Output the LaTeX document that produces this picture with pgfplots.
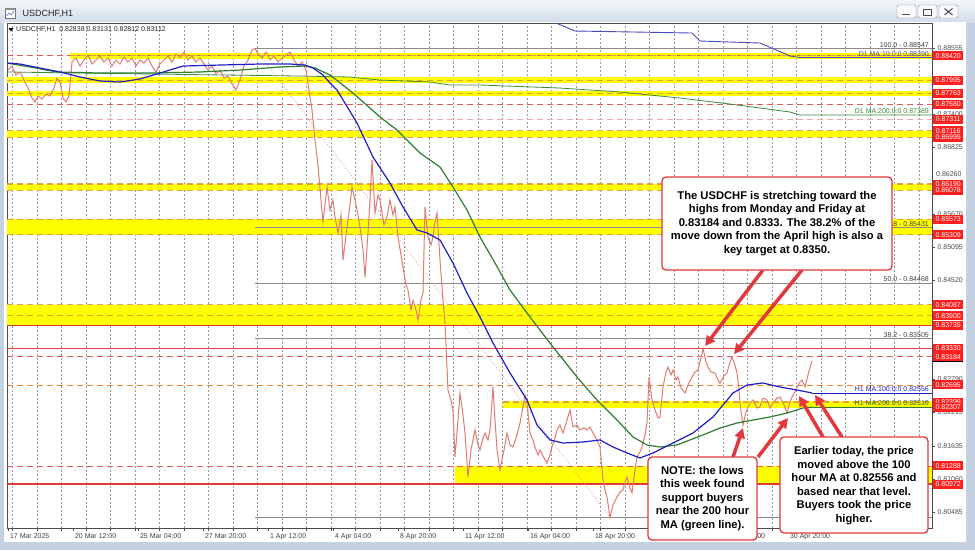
\documentclass[border=0pt]{standalone}
\usepackage{fontspec}
\setmainfont{Liberation Sans}
\usepackage{pgfplots}
\pgfplotsset{compat=1.18}
\usetikzlibrary{arrows.meta}
\definecolor{frame}{HTML}{C3D1E0}
\definecolor{titlebar}{HTML}{D3DEEA}
\definecolor{mtred}{HTML}{FF1F1F}
\definecolor{bandyellow}{HTML}{FFFF00}
\definecolor{bandorange}{HTML}{E6A23A}
\definecolor{lvlred}{HTML}{E03C3C}
\definecolor{ma100}{HTML}{1F1FC8}
\definecolor{ma200}{HTML}{2E7D32}
\definecolor{d1green}{HTML}{3C8C3C}
\definecolor{d1purple}{HTML}{4848C0}
\definecolor{pricecol}{HTML}{E27B74}
\definecolor{annred}{HTML}{E0383C}
\definecolor{fibgray}{HTML}{8C8C8C}
\newcommand{\band}[3]{\addplot[fill=bandyellow, draw=none, forget plot] coordinates {(#1,#2) (932,#2) (932,#3) (#1,#3)};}
\newcommand{\lvl}[3]{\addplot[#1, forget plot] coordinates {(#2,#3) (932,#3)};}
\tikzset{
  odash/.style={bandorange, line width=1.1pt, dash pattern=on 6pt off 4pt},
  rdash/.style={lvlred!85, line width=0.7pt, dash pattern=on 6pt off 4pt},
  rsolid/.style={lvlred, line width=1.1pt},
  fib/.style={fibgray, line width=0.5pt},
  redlab/.style={anchor=west, fill=mtred, text=white, font=\fontsize{7}{8}\selectfont, inner xsep=1pt, inner ysep=0.6pt, minimum width=30pt, minimum height=9pt},
  smalltxt/.style={font=\fontsize{7}{8}\selectfont, inner sep=1pt},
  ann/.style={draw=annred, line width=1.3pt, fill=white, rounded corners=4pt},
  anntext/.style={font=\bfseries\fontsize{11.2}{13.5}\selectfont, align=center, text=black},
  arr/.style={annred, line width=3.5pt, -{Triangle[length=10pt,width=10pt]}}
}
\begin{document}
\begin{tikzpicture}
\useasboundingbox (0,0) rectangle (975pt,-550pt);
\begin{scope}[x=1pt,y=-1pt]
\fill[frame] (0,0) rectangle (975,550);
\shade[top color=white!70!titlebar, bottom color=titlebar] (0,0) rectangle (975,22);
\fill[white] (4,22) rectangle (966,542);
% icon
\draw[black!55, line width=0.5pt, fill=white] (5,8) rectangle (15,18);
\fill[black!45] (5,8) rectangle (15,10);
\draw[ma100!70, line width=0.6pt] (6.5,16) -- (9,13) -- (11,15) -- (14,11);
\node[anchor=west, font=\fontsize{9}{10}\selectfont, text=black!85] at (19,13.5) {USDCHF,H1};
% window buttons
\foreach \xa in {897,918,939}{
  \draw[black!45, fill=white!85!titlebar, rounded corners=2pt] (\xa,5) rectangle (\xa+19,18);
}
\draw[black!70, line width=1pt] (902,14.5) -- (910,14.5);
\draw[black!70, line width=0.7pt] (923,9) rectangle (931,15);
\draw[black!70, line width=1pt] (944.5,8.5) -- (952.5,15) (944.5,15) -- (952.5,8.5);
\end{scope}

\begin{axis}[
  at={(7pt,-528pt)}, anchor=south west,
  scale only axis, width=925pt, height=505pt,
  xmin=7, xmax=932, ymin=0.80207, ymax=0.88990,
  axis background/.style={fill=white},
  axis line style={draw=black!70, line width=0.5pt},
  tick align=outside,
  xtick pos=bottom, ytick pos=right,
  yticklabel pos=right,
  scaled y ticks=false,
  ytick={0.88555,0.87400,0.86825,0.86260,0.85670,0.85095,0.84520,0.82790,0.82215,0.81635,0.81060,0.80485},
  yticklabels={0.88555,0.87400,0.86825,,0.85670,0.85095,0.84520,0.82790,0.82215,0.81635,0.81060,0.80485},
  y tick label style={font=\fontsize{7}{8}\selectfont, text=black!70, xshift=-0.5pt},
  major tick length=2.5pt,
  tick style={black!70, line width=0.5pt},
  xtick={12.3,36.8,...,930},
  xticklabels={},
  xmajorgrids,
  grid style={dash pattern=on 2pt off 2pt, black!40, line width=0.45pt},
  extra x ticks={8,73,138,203,268,333,398,463,528,593,658,723,788},
  extra x tick labels={17 Mar 2025,20 Mar 12:00,25 Mar 04:00,27 Mar 20:00,1 Apr 12:00,4 Apr 04:00,8 Apr 20:00,11 Apr 12:00,16 Apr 04:00,18 Apr 20:00,23 Apr 12:00,28 Apr 04:00,30 Apr 20:00},
  extra x tick style={grid=none, tick label style={anchor=north west, xshift=-1.5pt, font=\fontsize{7}{8}\selectfont, text=black!75}},
  clip mode=individual,
]
% ---- yellow zones
\band{70}{0.88468}{0.88372}
\band{7}{0.88045}{0.87945}
\band{7}{0.87813}{0.87713}
\band{7}{0.87116}{0.86999}
\band{7}{0.86190}{0.86078}
\band{7}{0.85573}{0.85309}
\band{7}{0.84087}{0.83735}
\band{503}{0.82420}{0.82290}
\band{455}{0.81288}{0.80972}
% ---- level lines
\lvl{rdash}{7}{0.88420}
\lvl{odash}{70}{0.88420}
\lvl{odash}{7}{0.87995}
\lvl{odash}{7}{0.87763}
\lvl{rdash}{7}{0.87580}
\lvl{rdash, lvlred!45}{7}{0.87311}
\lvl{odash}{7}{0.87116}
\lvl{odash}{7}{0.86999}
\lvl{odash}{7}{0.86190}
\lvl{odash}{7}{0.86078}
\lvl{odash}{7}{0.85573}
\lvl{odash}{7}{0.85309}
\lvl{odash}{7}{0.84087}
\lvl{odash}{7}{0.83900}
\lvl{rsolid}{7}{0.83735}
\lvl{rsolid}{7}{0.83330}
\lvl{rdash}{7}{0.83184}
\lvl{rdash, bandorange!80!red}{7}{0.82695}
\lvl{odash}{503}{0.82399}
\lvl{rdash}{7}{0.81288}
\lvl{rsolid}{7}{0.80972}
% ---- fibonacci
\lvl{fib}{255}{0.88547}
\lvl{fib}{255}{0.85431}
\lvl{fib}{255}{0.84468}
\lvl{fib}{255}{0.83505}
\lvl{fib}{255}{0.80389}
\addplot[lvlred!60, line width=0.6pt, dash pattern=on 1pt off 2pt, forget plot] coordinates {(255,0.88547) (610,0.80389)};
\node[smalltxt, anchor=south east, text=black!75] at (axis cs:930,0.88547) {100.0 - 0.88547};
\node[smalltxt, anchor=south east, text=black!75] at (axis cs:930,0.85431) {61.8 - 0.85431};
\node[smalltxt, anchor=south east, text=black!75] at (axis cs:930,0.84468) {50.0 - 0.84468};
\node[smalltxt, anchor=south east, text=black!75] at (axis cs:930,0.83505) {38.2 - 0.83505};
\node[smalltxt, anchor=south east, text=black!75] at (axis cs:930,0.80389) {0.0 - 0.80389};
% ---- daily MAs
\addplot[d1purple, line width=0.9pt, forget plot] coordinates {(556,0.88990) (575,0.88851) (692,0.88816) (700,0.88677) (760,0.88642) (790,0.88416) (800,0.88390) (932,0.88390)};
\addplot[d1green, line width=0.8pt, forget plot] coordinates {(7,0.88138) (150,0.88103) (300,0.88068) (350,0.88051) (380,0.87998) (430,0.87964) (450,0.87912) (480,0.87912) (560,0.87859) (620,0.87790) (680,0.87685) (730,0.87581) (790,0.87442) (800,0.87390) (932,0.87390)};
\node[smalltxt, anchor=south east, text=d1purple] at (axis cs:930,0.88390) {D1 MA:10:0:0 0.88390};
\node[smalltxt, anchor=south east, text=d1green] at (axis cs:930,0.87390) {D1 MA:200:0:0 0.87389};
% ---- hourly MA levels
\lvl{ma100, line width=0.8pt}{812}{0.82556}
\lvl{ma200, line width=0.8pt}{813}{0.82310}
\node[smalltxt, anchor=south east, text=ma100] at (axis cs:930,0.82556) {H1 MA:100:0:0 0.82556};
\node[smalltxt, anchor=south east, text=ma200!80!black] at (axis cs:930,0.82310) {H1 MA:200:0:0 0.82310};
% ---- price
\addplot[pricecol, line width=1pt] coordinates {
(8,0.88172) (12,0.88242) (16,0.88085) (20,0.88138) (24,0.87998) (28,0.87859) (32,0.87685) (35,0.87616) (38,0.87720) (42,0.87668) (46,0.87755) (50,0.87720) (54,0.87859) (57,0.88033) (60,0.87964) (63,0.87685) (66,0.87616) (69,0.87720) (72,0.88312) (76,0.88381) (80,0.88242) (84,0.88346) (88,0.88433) (92,0.88277) (96,0.88346) (100,0.88416) (104,0.88312) (108,0.88381) (112,0.88242) (116,0.88346) (120,0.88277) (124,0.88398) (128,0.88312) (132,0.88381) (136,0.88242) (140,0.88346) (144,0.88294) (148,0.88381) (152,0.88242) (156,0.88138) (160,0.88277) (164,0.88346) (168,0.88416) (172,0.88312) (176,0.88451) (180,0.88381) (184,0.88485) (188,0.88346) (192,0.88416) (196,0.88312) (200,0.88381) (204,0.88277) (208,0.88172) (212,0.88242) (216,0.88103) (220,0.88172) (224,0.88033) (228,0.88068) (232,0.87929) (236,0.87825) (240,0.87998) (244,0.88242) (248,0.88346) (252,0.88520) (255,0.88547) (258,0.88451) (262,0.88381) (266,0.88485) (270,0.88346) (274,0.88416) (278,0.88312) (282,0.88381) (286,0.88433) (290,0.88485) (294,0.88346) (298,0.88242) (302,0.88312) (306,0.88172) (309,0.87825) (312,0.87477) (315,0.86955) (318,0.86520) (321,0.85912) (323,0.85529) (327,0.86138) (330,0.85738) (333,0.85912) (335,0.85616) (338,0.85338) (341,0.85651) (343,0.84868) (347,0.85442) (350,0.85825) (352,0.86138) (355,0.85912) (358,0.85651) (360,0.85442) (363,0.85042) (365,0.84572) (368,0.85338) (370,0.85912) (372,0.86607) (375,0.85685) (378,0.85998) (380,0.85912) (384,0.85477) (387,0.85616) (390,0.85912) (393,0.85651) (395,0.85790) (398,0.85268) (401,0.84955) (403,0.84746) (406,0.84433) (408,0.84346) (411,0.83998) (413,0.84172) (416,0.83998) (418,0.83825) (421,0.84172) (423,0.84294) (425,0.85790) (428,0.85268) (431,0.85129) (433,0.85268) (435,0.85529) (437,0.85685) (440,0.84868) (443,0.84172) (445,0.83772) (448,0.82607) (451,0.82433) (453,0.82259) (455,0.81442) (458,0.82085) (460,0.82555) (463,0.82172) (465,0.81859) (468,0.81094) (471,0.81564) (475,0.81912) (478,0.81651) (480,0.81564) (483,0.81772) (485,0.81859) (488,0.81738) (490,0.81912) (493,0.82659) (495,0.82085) (497,0.81564) (500,0.81216) (504,0.81564) (507,0.81859) (510,0.81651) (513,0.81616) (517,0.81825) (520,0.82033) (523,0.82312) (525,0.82520) (527,0.82381) (530,0.81859) (533,0.81738) (535,0.81616) (538,0.81477) (540,0.81564) (544,0.81425) (547,0.81338) (550,0.81477) (552,0.81616) (555,0.81772) (557,0.81912) (560,0.81998) (563,0.81859) (567,0.82085) (570,0.82259) (573,0.81964) (577,0.81998) (580,0.81912) (584,0.81946) (587,0.81912) (590,0.81964) (593,0.81859) (597,0.81738) (600,0.81616) (603,0.81042) (605,0.80868) (607,0.80746) (610,0.80389) (613,0.80607) (617,0.80746) (620,0.80833) (623,0.80868) (625,0.81007) (627,0.81094) (630,0.80903) (632,0.80816) (635,0.81216) (637,0.81442) (640,0.81529) (642,0.81616) (645,0.81825) (647,0.82033) (649,0.82833) (652,0.82433) (655,0.82259) (658,0.82120) (660,0.82138) (663,0.82659) (666,0.82920) (668,0.83007) (671,0.82868) (673,0.82955) (676,0.82781) (678,0.82833) (681,0.82642) (685,0.82555) (688,0.82694) (692,0.82833) (695,0.82920) (698,0.82955) (701,0.83164) (703,0.83330) (706,0.83094) (708,0.83007) (711,0.82920) (715,0.82903) (718,0.82781) (720,0.82729) (724,0.82851) (727,0.82903) (730,0.83094) (732,0.83184) (735,0.83042) (737,0.82903) (739,0.82607) (740,0.82381) (742,0.82120) (743,0.81998) (746,0.82225) (748,0.82312) (751,0.82398) (753,0.82433) (757,0.82294) (760,0.82312) (763,0.82468) (767,0.82433) (770,0.82294) (773,0.82381) (777,0.82468) (780,0.82485) (784,0.82346) (787,0.82207) (790,0.82398) (792,0.82485) (795,0.82572) (797,0.82659) (800,0.82746) (802,0.82781) (805,0.82659) (808,0.82868) (810,0.82990) (812,0.83112)
};
% ---- hourly MA200 (green)
\addplot[ma200, line width=1.2pt] coordinates {
(7,0.88294) (30,0.88225) (57,0.88138) (100,0.88120) (150,0.88120) (200,0.88138) (240,0.88172) (280,0.88225) (305,0.88242) (315,0.88207) (330,0.88085) (353,0.87772) (380,0.87355) (397,0.87129) (420,0.86729) (440,0.86485) (453,0.86138) (467,0.85738) (480,0.85268) (495,0.84816) (510,0.84346) (530,0.83877) (553,0.83355) (577,0.82833) (597,0.82433) (617,0.82085) (633,0.81790) (647,0.81651) (660,0.81616) (677,0.81651) (703,0.81825) (720,0.81946) (737,0.82033) (753,0.82085) (770,0.82138) (787,0.82207) (803,0.82294) (813,0.82310)
};
% ---- hourly MA100 (blue)
\addplot[ma100, line width=1.2pt] coordinates {
(7,0.88294) (20,0.88277) (40,0.88207) (60,0.88138) (80,0.88051) (100,0.87981) (120,0.87964) (140,0.88016) (160,0.88120) (183,0.88242) (220,0.88259) (260,0.88277) (290,0.88277) (305,0.88259) (313,0.88207) (323,0.88085) (330,0.87946) (337,0.87825) (357,0.87251) (373,0.86659) (390,0.86207) (403,0.85790) (417,0.85390) (427,0.85338) (440,0.85216) (453,0.84816) (467,0.84294) (480,0.83877) (493,0.83425) (510,0.82903) (527,0.82433) (537,0.81998) (550,0.81738) (563,0.81685) (583,0.81703) (600,0.81738) (613,0.81616) (627,0.81512) (640,0.81425) (653,0.81512) (673,0.81685) (693,0.81859) (713,0.82138) (733,0.82555) (747,0.82694) (763,0.82729) (780,0.82659) (797,0.82607) (812,0.82556)
};
\end{axis}

\begin{scope}[x=1pt,y=-1pt]
% info line
\fill[black] (8.5,28) -- (13.5,28) -- (11,31.5) -- cycle;
\node[smalltxt, anchor=west, text=black!85] at (15,29.8) {USDCHF,H1\ \ 0.82838 0.83131 0.82812 0.83112};
% grid price label partly under the red ones
\node[smalltxt, anchor=west, text=black!70] at (935,174.5) {0.86260};
% red price labels
\node[redlab] at (933,55.8) {0.88420};
\node[redlab] at (933,80.2) {0.87995};
\node[redlab] at (933,93.5) {0.87763};
\node[redlab] at (933,104.1) {0.87580};
\node[redlab] at (933,119.5) {0.87311};
\node[redlab] at (933,130.7) {0.87116};
\node[redlab] at (933,137.5) {0.86999};
\node[redlab] at (933,184.0) {0.86190};
\node[redlab] at (933,190.4) {0.86078};
\node[redlab] at (933,219.5) {0.85573};
\node[redlab] at (933,234.6) {0.85309};
\node[redlab] at (933,304.9) {0.84087};
\node[redlab] at (933,315.7) {0.83900};
\node[redlab] at (933,325.2) {0.83735};
\node[redlab] at (933,348.4) {0.83330};
\node[redlab, fill=black] at (933,357.8) {\phantom{0.83184}};
\node[redlab] at (933,356.8) {0.83184};
\node[redlab] at (933,384.9) {0.82695};
\node[redlab] at (933,402.0) {0.82399};
\node[redlab] at (933,407.3) {0.82307};
\node[redlab] at (933,465.9) {0.81288};
\node[redlab] at (933,484.0) {0.80972};
% arrows
\draw[arr] (763,270) -- (705,346);
\draw[arr] (802,270) -- (734,354);
\draw[arr] (733,457) -- (743,428);
\draw[arr] (758,457) -- (788,418);
\draw[arr] (823,437) -- (799,396);
\draw[arr] (842,437) -- (815,395);
% boxes
\draw[ann] (662,177) rectangle (892,270);
\node[anntext] at (777,223.5) {The USDCHF is stretching toward the\\highs from Monday and Friday at\\0.83184 and 0.8333. The 38.2\% of the\\move down from the April high is also a\\key target at 0.8350.};
\draw[ann] (648,457) rectangle (757,540);
\node[anntext] at (702.5,498.5) {NOTE: the lows\\this week found\\support buyers\\near the 200 hour\\MA (green line).};
\draw[ann] (780,437) rectangle (928,533);
\node[anntext] at (854,485.5) {Earlier today, the price\\moved above the 100\\hour MA at 0.82556 and\\based near that level.\\Buyers took the price\\higher.};
\end{scope}
\end{tikzpicture}
\end{document}
